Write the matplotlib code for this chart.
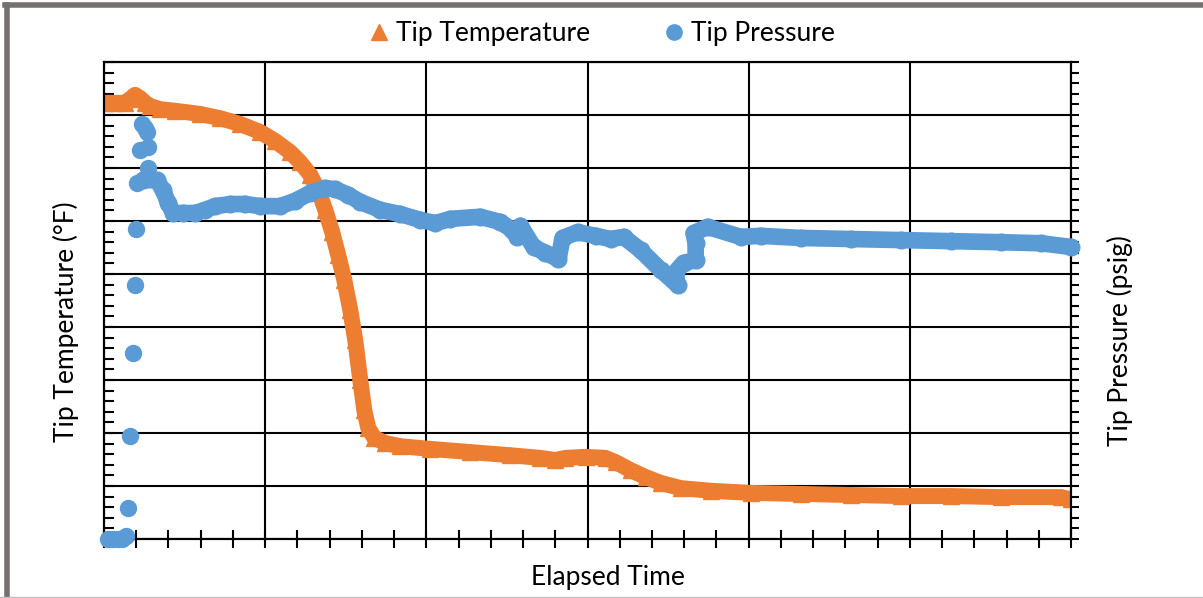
import matplotlib
matplotlib.use("Agg")
import matplotlib.pyplot as plt
from matplotlib.lines import Line2D
from matplotlib.ticker import MultipleLocator

plt.rcParams['font.family'] = ['Lato', 'DejaVu Sans']

# 温度数据 (elapsed time, tip temperature)
temp_time = [0.06, 0.68, 1.30, 1.61, 1.93, 2.24, 2.55, 2.86, 3.48, 4.41, 5.96, 7.20,
             8.45, 9.69, 10.62, 11.55, 12.17, 12.80, 13.29, 13.73, 14.16, 14.53, 14.91,
             15.28, 15.59, 15.90, 16.15, 16.40, 16.77, 17.45, 18.39, 20.25, 22.73, 25.22,
             27.08, 28.01, 28.63, 29.88, 31.12, 31.74, 32.67, 33.60, 34.53, 35.78, 37.64,
             40.12, 43.23, 46.34, 49.44, 52.55, 55.65, 59.38, 60.0]
temp_val = [823, 823, 823, 830, 838, 832, 823, 817, 811, 808, 802, 794,
            783, 768, 751, 730, 711, 687, 658, 621, 579, 536, 489,
            432, 375, 300, 243, 209, 191, 181, 175, 170, 164, 158,
            153, 149, 153, 155, 153, 145, 130, 117, 106, 96, 91,
            87, 85, 83, 81, 81, 79, 79, 75]

# 压力数据 (elapsed time, tip pressure)
pres_time = [0.25, 0.56, 0.87, 1.12, 1.37, 1.49, 1.61, 1.80, 1.93, 1.99, 2.05, 2.24,
             2.36, 2.55, 2.67, 2.73, 2.73, 2.42, 3.29, 3.66, 3.98, 4.29, 4.91, 5.65,
             6.27, 6.89, 7.83, 8.76, 9.69, 10.93, 11.86, 12.80, 13.73, 14.35, 15.16,
             15.90, 17.14, 18.39, 19.63, 20.56, 21.49, 23.35, 24.60, 25.34, 25.65,
             25.84, 26.65, 27.39, 28.20, 28.45, 29.38, 30.50, 31.43, 32.24, 33.29,
             34.53, 35.59, 35.47, 35.96, 36.71, 36.71, 36.58, 37.45, 39.50, 40.75,
             43.23, 46.34, 49.44, 52.55, 55.65, 58.14, 60.0]
pres_val = [0, 0, 0, 0, 6, 58, 194, 351, 479, 585, 672, 734,
            783, 775, 768, 740, 700, 677, 677, 658, 634, 615, 615, 615,
            621, 628, 632, 632, 628, 628, 638, 653, 662, 660, 649,
            636, 621, 613, 602, 596, 604, 608, 598, 583, 570,
            591, 551, 540, 528, 568, 579, 572, 566, 570, 545,
            508, 479, 504, 521, 526, 558, 577, 589, 570, 572,
            568, 566, 564, 562, 560, 558, 551]
n_spike = 17  # 前面的尖峰点只画散点

orange = '#ED7D31'
blue = '#5B9BD5'

W, H = 1203, 598
fig = plt.figure(figsize=(W / 100, H / 100), dpi=100)
ax = fig.add_axes([104 / W, 59 / H, 967 / W, 477 / H])
ax.set_xlim(0, 60)
ax.set_ylim(0, 900)
ax.xaxis.set_major_locator(MultipleLocator(10))
ax.xaxis.set_minor_locator(MultipleLocator(2))
ax.yaxis.set_major_locator(MultipleLocator(100))
ax.yaxis.set_minor_locator(MultipleLocator(20))
ax.grid(True, which='major', color='black', lw=1.5)
ax.set_axisbelow(True)
ax.tick_params(labelleft=False, labelbottom=False)
ax.tick_params(axis='x', which='both', direction='inout', length=13, width=1.5)
ax.tick_params(axis='y', which='both', direction='in', length=7, width=1.5)
for s in ax.spines.values():
    s.set_linewidth(1.5)

ax.plot(temp_time, temp_val, color=orange, lw=11.5, marker='^', ms=11,
        solid_joinstyle='round', zorder=2)

ax2 = ax.twinx()
ax2.set_ylim(0, 900)
ax2.yaxis.set_major_locator(MultipleLocator(100))
ax2.yaxis.set_minor_locator(MultipleLocator(20))
ax2.tick_params(axis='y', which='both', direction='out', length=6, width=1.5,
                labelright=False)
for s in ax2.spines.values():
    s.set_linewidth(1.5)

ax2.plot(pres_time[:n_spike], pres_val[:n_spike], ls='none', marker='o', ms=11.5,
         color=blue, clip_on=False, zorder=3)
ax2.plot(pres_time[n_spike:], pres_val[n_spike:], color=blue, lw=12, marker='o', ms=12,
         solid_joinstyle='round', solid_capstyle='round', clip_on=False, zorder=3)

# 坐标轴标题
fs = 19
fig.text(66 / W, 1 - 322 / H, 'Tip Temperature (°F)', rotation=90, ha='center',
         va='center', fontsize=fs)
fig.text(1120 / W, 1 - 341 / H, 'Tip Pressure (psig)', rotation=90, ha='center',
         va='center', fontsize=fs)
fig.text(608 / W, 1 - 578 / H, 'Elapsed Time', ha='center', va='center', fontsize=fs)

handles = [Line2D([], [], ls='none', marker='^', ms=11, color=orange),
           Line2D([], [], ls='none', marker='o', ms=11, color=blue)]
fig.legend(handles, ['Tip Temperature', 'Tip Pressure'], loc='center',
           bbox_to_anchor=(0.499, 1 - 34 / H), ncol=2, frameon=False, fontsize=fs,
           handletextpad=0.15, columnspacing=2.7, handlelength=1)

# 外框
fig.add_artist(Line2D([7 / W, 7 / W], [0, 1 - 5 / H], color='#767171', lw=4,
                      transform=fig.transFigure))
fig.add_artist(Line2D([5 / W, 1], [1 - 5 / H, 1 - 5 / H], color='#767171', lw=4,
                      transform=fig.transFigure))
fig.add_artist(Line2D([0, 1], [1.5 / H, 1.5 / H], color='#bfbfbf', lw=1,
                      transform=fig.transFigure))

fig.savefig('out.png', dpi=100)
